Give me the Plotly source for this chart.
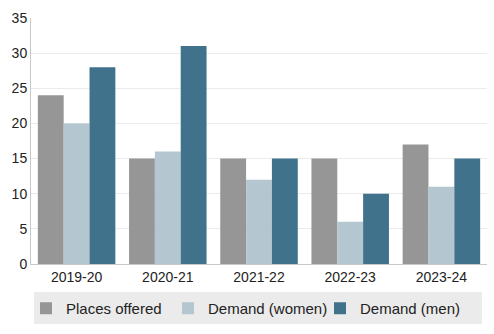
import plotly.graph_objects as go

categories = ["2019-20", "2020-21", "2021-22", "2022-23", "2023-24"]
places_offered = [24, 15, 15, 15, 17]
demand_women = [20, 16, 12, 6, 11]
demand_men = [28, 31, 15, 10, 15]

series = [
    ("Places offered", places_offered, "#969696", "legend", 26),
    ("Demand (women)", demand_women, "#b4c6d0", "legend2", 168),
    ("Demand (men)", demand_men, "#41728c", "legend3", 320),
]

W, H = 494, 334
ml, mr, mt, mb = 31, 7, 18, 70
pw, ph = W - ml - mr, H - mt - mb

def px_x(x):
    return (x - ml) / pw

def px_y(y):
    return (H - mb - y) / ph

fig = go.Figure()
legends = {}
for name, vals, color, leg, lx in series:
    fig.add_trace(go.Bar(x=categories, y=vals, name=name, marker_color=color,
                         marker_line_width=0, legend=leg))
    legends[leg] = dict(orientation="h", x=px_x(lx), xanchor="left",
                        y=px_y(292), yanchor="top", bgcolor="rgba(0,0,0,0)",
                        font=dict(size=15, color="#222"))

fig.add_shape(type="rect", xref="paper", yref="paper",
              x0=px_x(34), x1=px_x(482), y0=px_y(324), y1=px_y(292),
              fillcolor="#ebebeb", line_width=0, layer="below")

fig.update_layout(
    width=W, height=H,
    margin=dict(l=ml, r=mr, t=mt, b=mb, autoexpand=False),
    paper_bgcolor="white", plot_bgcolor="white",
    font=dict(family="Liberation Sans, Arial, sans-serif", size=14, color="#222"),
    barmode="group", bargap=0.15, bargroupgap=0,
    showlegend=True,
    xaxis=dict(showline=True, linecolor="#c8c8c8", linewidth=1, ticks="",
               tickfont=dict(size=14)),
    yaxis=dict(range=[0, 35], dtick=5, showline=True, linecolor="#c8c8c8",
               linewidth=1, gridcolor="#ebebeb", zeroline=False, ticks="",
               tickfont=dict(size=14)),
    **legends,
)

fig.write_html("out.html")
